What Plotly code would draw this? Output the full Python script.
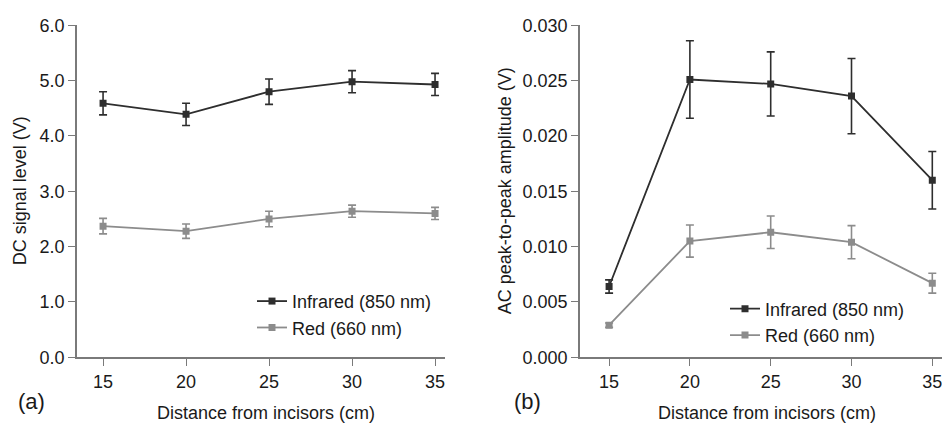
import plotly.graph_objects as go

distance = [15, 20, 25, 30, 35]

dc_infrared = [4.59, 4.39, 4.80, 4.98, 4.93]
dc_infrared_err = [0.21, 0.20, 0.23, 0.20, 0.20]
dc_red = [2.37, 2.28, 2.50, 2.64, 2.60]
dc_red_err = [0.14, 0.13, 0.14, 0.11, 0.11]

ac_infrared = [0.0064, 0.0251, 0.0247, 0.0236, 0.0160]
ac_infrared_err = [0.0006, 0.0035, 0.0029, 0.0034, 0.0026]
ac_red = [0.0029, 0.0105, 0.0113, 0.0104, 0.0067]
ac_red_err = [0.0002, 0.00145, 0.00147, 0.0015, 0.0009]

dc_ticks = [0, 1, 2, 3, 4, 5, 6]
dc_ticklabels = ["0.0", "1.0", "2.0", "3.0", "4.0", "5.0", "6.0"]
ac_ticks = [0, 0.005, 0.010, 0.015, 0.020, 0.025, 0.030]
ac_ticklabels = ["0.000", "0.005", "0.010", "0.015", "0.020", "0.025", "0.030"]

IR_COLOR = "#2e2e2e"
RED_COLOR = "#8c8c8c"
AXIS_COLOR = "#7a7a7a"
FONT = "Liberation Sans, Arial, sans-serif"
W, H = 942, 436

fig = go.Figure()

def add(x, y, err, color, name, xa, ya, legend):
    fig.add_trace(go.Scatter(
        x=x, y=y, mode="lines+markers", name=name,
        line=dict(color=color, width=1.8),
        marker=dict(symbol="square", size=7, color=color),
        error_y=dict(type="data", array=err, visible=True, color=color,
                     thickness=1.6, width=4),
        xaxis=xa, yaxis=ya, legend=legend,
    ))

add(distance, dc_infrared, dc_infrared_err, IR_COLOR, "Infrared (850 nm)", "x", "y", "legend")
add(distance, dc_red, dc_red_err, RED_COLOR, "Red (660 nm)", "x", "y", "legend")
add(distance, ac_infrared, ac_infrared_err, IR_COLOR, "Infrared (850 nm)", "x2", "y2", "legend2")
add(distance, ac_red, ac_red_err, RED_COLOR, "Red (660 nm)", "x2", "y2", "legend2")

def px_x(p):
    return p / W

def px_y(p):
    return 1 - p / H

ydom = [px_y(364), px_y(16)]

axis_common = dict(
    showgrid=False, zeroline=False, showline=True, linecolor=AXIS_COLOR,
    linewidth=1.6, ticks="outside", ticklen=7, tickwidth=1.4,
    tickcolor=AXIS_COLOR, tickfont=dict(family=FONT, size=18, color="#1a1a1a"),
    ticklabeloverflow="allow",
)

fig.update_layout(
    width=W, height=H,
    margin=dict(l=0, r=0, t=0, b=0),
    paper_bgcolor="white", plot_bgcolor="white",
    font=dict(family=FONT, size=18, color="#1a1a1a"),
    xaxis=dict(domain=[px_x(77), px_x(445)], range=[13.43, 35.6],
               tickvals=distance, anchor="y", **axis_common),
    yaxis=dict(domain=ydom, range=[0, 6], tickvals=dc_ticks,
               ticktext=dc_ticklabels, anchor="x", **axis_common),
    xaxis2=dict(domain=[px_x(580), 1.0], range=[13.2, 35.6],
                tickvals=distance, anchor="y2", **axis_common),
    yaxis2=dict(domain=ydom, range=[0, 0.030], tickvals=ac_ticks,
                ticktext=ac_ticklabels, anchor="x2", **axis_common),
    legend=dict(x=px_x(252), y=px_y(286), xanchor="left", yanchor="top",
                bgcolor="rgba(0,0,0,0)", font=dict(size=18), tracegroupgap=0,
                itemwidth=30),
    legend2=dict(x=px_x(725), y=px_y(294), xanchor="left", yanchor="top",
                 bgcolor="rgba(0,0,0,0)", font=dict(size=18), tracegroupgap=0,
                 itemwidth=30),
    showlegend=True,
)

annotations = [
    dict(text="Distance from incisors (cm)", x=px_x(266), y=px_y(422), size=18),
    dict(text="Distance from incisors (cm)", x=px_x(767), y=px_y(422), size=18),
    dict(text="(a)", x=px_x(31), y=px_y(410), size=22),
    dict(text="(b)", x=px_x(527), y=px_y(410), size=22),
    dict(text="DC signal level (V)", x=px_x(20), y=px_y(190), textangle=-90, size=18),
    dict(text="AC peak-to-peak amplitude (V)", x=px_x(505), y=px_y(190), textangle=-90, size=18),
]
for a in annotations:
    size = a.pop("size")
    fig.add_annotation(xref="paper", yref="paper", showarrow=False,
                       xanchor="center", yanchor="middle",
                       font=dict(family=FONT, size=size, color="#1a1a1a"), **a)

fig.write_html("out.html")
